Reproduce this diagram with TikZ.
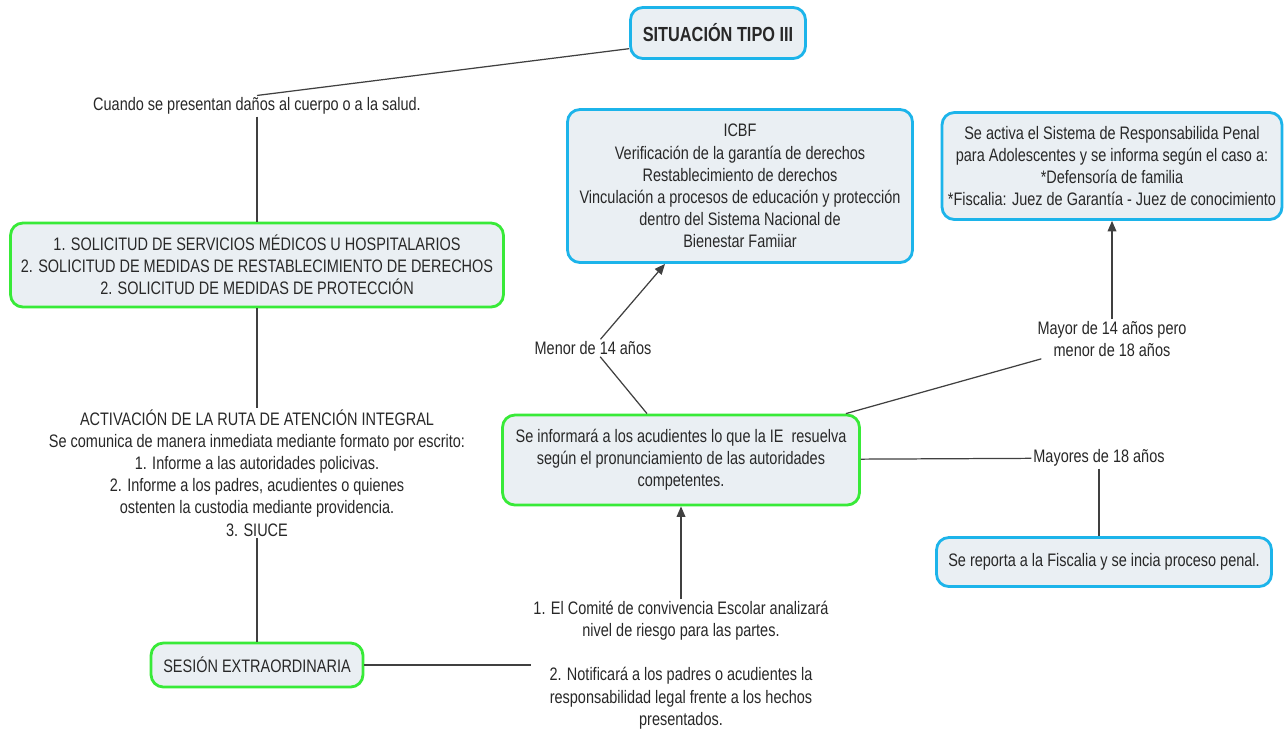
\documentclass[tikz,border=0pt]{standalone}
\usepackage{fontspec}
\setmainfont{Liberation Sans}[FakeStretch=0.8]
\usetikzlibrary{arrows.meta}
\definecolor{boxblue}{RGB}{28,180,234}
\definecolor{boxgreen}{RGB}{56,234,56}
\definecolor{boxfill}{RGB}{234,239,243}
\definecolor{inktext}{RGB}{40,40,40}
\tikzset{
  box/.style={draw, rounded corners=7pt, line width=1.6pt, fill=boxfill, align=center,
    text=inktext, font=\fontsize{10.3pt}{12.6pt}\selectfont, inner sep=2pt},
  bluebox/.style={box, draw=boxblue},
  greenbox/.style={box, draw=boxgreen},
  lbl/.style={align=center, text=inktext, font=\fontsize{10.3pt}{12.6pt}\selectfont, inner sep=1pt},
  link/.style={draw=black!75, line width=0.7pt},
  arr/.style={link, -{Triangle[length=6pt,width=5pt]}}
}

\begin{document}
\begin{tikzpicture}[x=0.02cm,y=-0.02cm]
    \path[use as bounding box, fill=white] (0,0) rectangle (1284,731);

    \node[bluebox, minimum width=3.5cm, minimum height=1.02cm, font=\fontsize{11.6pt}{13pt}\selectfont\bfseries] (sit) at (718,33) {SITUACIÓN TIPO III};
    \node[lbl] (cuando) at (257,106) {Cuando se presentan daños al cuerpo o a la salud.};
    \node[greenbox, minimum width=9.86cm, minimum height=1.68cm] (solic) at (257,265)
      {1. SOLICITUD DE SERVICIOS MÉDICOS U HOSPITALARIOS\\2. SOLICITUD DE MEDIDAS DE RESTABLECIMIENTO DE DERECHOS\\2. SOLICITUD DE MEDIDAS DE PROTECCIÓN};
    \node[lbl] (activ) at (257,473)
      {ACTIVACIÓN DE LA RUTA DE ATENCIÓN INTEGRAL\\Se comunica de manera inmediata mediante formato por escrito:\\1. Informe a las autoridades policivas.\\2. Informe a los padres, acudientes o quienes\\ostenten la custodia mediante providencia.\\3. SIUCE};
    \node[greenbox, minimum width=4.24cm, minimum height=0.88cm] (ses) at (257,665) {SESIÓN EXTRAORDINARIA};
    \node[lbl] (comite) at (681,665)
      {1. El Comité de convivencia Escolar analizará\\nivel de riesgo para las partes.\\[12.6pt]2. Notificará a los padres o acudientes la\\responsabilidad legal frente a los hechos\\presentados.};
    \node[greenbox, minimum width=7.14cm, minimum height=1.8cm] (ie) at (681,460)
      {Se informará a los acudientes lo que la IE~ resuelva\\según el pronunciamiento de las autoridades\\competentes.};
    \node[bluebox, minimum width=6.9cm, minimum height=3.06cm] (icbf) at (740,186)
      {ICBF\\Verificación de la garantía de derechos\\Restablecimiento de derechos\\Vinculación a procesos de educación y protección\\dentro del Sistema Nacional de\\Bienestar Famiiar};
    \node[bluebox, minimum width=6.8cm, minimum height=2.14cm] (resp) at (1112,166)
      {Se activa el Sistema de Responsabilida Penal\\para Adolescentes y se informa según el caso a:\\*Defensoría de familia\\*Fiscalia: Juez de Garantía - Juez de conocimiento};
    \node[lbl] (menor) at (593,348) {Menor de 14 años};
    \node[lbl] (mayor) at (1112,339) {Mayor de 14 años pero\\menor de 18 años};
    \node[lbl] (mayores) at (1099,458) {Mayores de 18 años};
    \node[bluebox, minimum width=6.7cm, minimum height=0.98cm] (fiscal) at (1104,562)
      {Se reporta a la Fiscalia y se incia proceso penal.};

    \draw[link] (cuando.north) -- (sit.190);
    \draw[link] (cuando) -- (solic);
    \draw[link] (solic) -- (activ);
    \draw[link] (activ) -- (ses);
    \draw[link] (ses) -- (comite);
    \draw[arr] (comite) -- (ie);
    \draw[link] ([xshift=-0.68cm]ie.north) -- (menor);
    \draw[arr] (menor) -- ([xshift=-1.5cm]icbf.south);
    \draw[link] ([xshift=-0.3cm]ie.north east) -- (mayor);
    \draw[arr] (mayor) -- (resp);
    \draw[link] (ie) -- (mayores);
    \draw[link] (mayores) -- (mayores |- fiscal.north);
\end{tikzpicture}
\end{document}
